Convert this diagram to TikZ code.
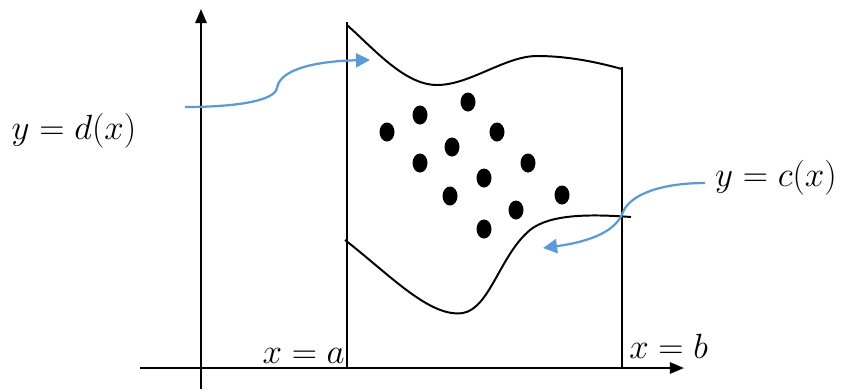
\documentclass[tikz,border=0pt]{standalone}
\usepackage{xcolor}
\usepackage{tikz}
\usetikzlibrary{arrows.meta,positioning,calc}
\definecolor{pointer}{HTML}{5B9BD5}

\begin{document}
\begin{tikzpicture}[x=0.025cm,y=-0.025cm,
  axis/.style={line width=1.5pt,-{Triangle[length=10pt,width=8pt]}},
  edge/.style={line width=1.4pt},
  bound/.style={line width=1.4pt},
  hint/.style={pointer,line width=1.6pt,-{Triangle[length=10pt,width=10pt]}},
  lbl/.style={font=\fontsize{26}{30}\selectfont,inner sep=0pt}]
  \useasboundingbox (0,0) rectangle (847,391);
  % axes
  \coordinate (xs) at (140,368); \coordinate (xe) at (684,368);
  \coordinate (ys) at (201,389); \coordinate (ye) at (201,9);
  \draw[axis] (xs) -- (xe);
  \draw[axis] (ys) -- (ye);
  % region sides
  \coordinate (a0) at (347,368); \coordinate (a1) at (347,22);
  \coordinate (b0) at (622,368); \coordinate (b1) at (622,67);
  \draw[edge] (a0) -- (a1);
  \draw[edge] (b0) -- (b1);
  % upper and lower boundaries
  \draw[bound] (347,25) .. controls (375,50) and (405,85) .. (437,85)
    .. controls (470,85) and (505,56) .. (537,56)
    .. controls (570,56) and (600,63) .. (622,69);
  \draw[bound] (345,240) .. controls (390,275) and (430,318) .. (463,313)
    .. controls (490,308) and (500,255) .. (530,230)
    .. controls (550,214) and (590,214) .. (631,217);
  % points
  \foreach \px/\py in {468/102,420/115,387/132,497/132,420/163,452/147,
    528/163,484/178,450/196,562/195,516/210,484/229}
    \fill (\px,\py) ellipse [x radius=7.5,y radius=9.5];
  % labels
  \node[lbl] (d) at (74,131) {$y = d(x)$};
  \node[lbl] (c) at (776,178) {$y = c(x)$};
  \node[lbl,anchor=base east] (a) at (345,363) {$x = a$};
  \node[lbl,anchor=base west] (b) at (629,358) {$x = b$};
  % pointers
  \coordinate (p1) at (185,107); \coordinate (q1) at (370,60);
  \coordinate (p2) at (705,183); \coordinate (q2) at (543,248);
  \draw[hint] (p1) .. controls (240,107) and (275,100) .. (277,88)
    .. controls (280,68) and (320,61) .. (q1);
  \draw[hint] (p2) .. controls (660,183) and (630,195) .. (623,212)
    .. controls (615,235) and (580,243) .. (q2);
\end{tikzpicture}
\end{document}
